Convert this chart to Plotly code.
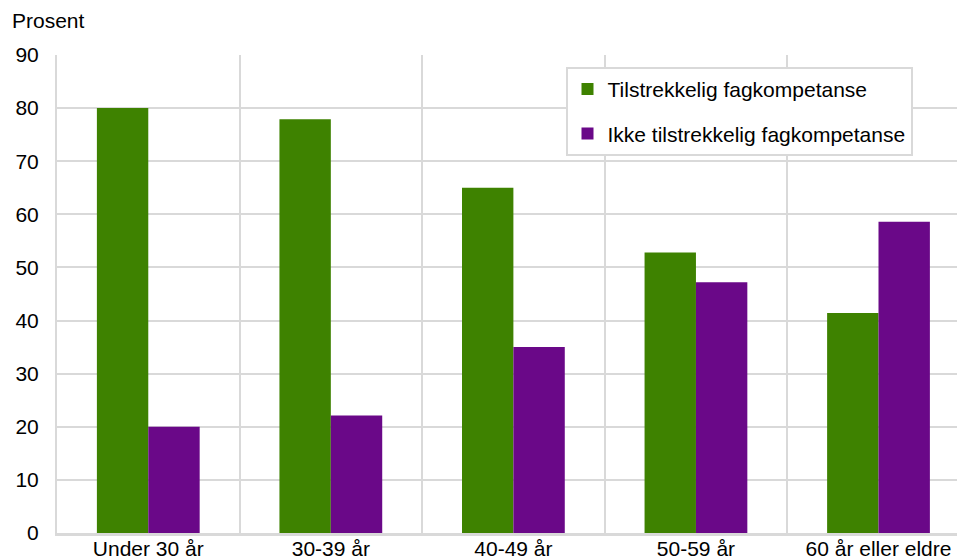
import plotly.graph_objects as go

categories = ["Under 30 år", "30-39 år", "40-49 år", "50-59 år", "60 år eller eldre"]
tilstrekkelig = [80.0, 77.9, 65.0, 52.8, 41.4]
ikke_tilstrekkelig = [20.0, 22.1, 35.0, 47.2, 58.6]
series_names = ["Tilstrekkelig fagkompetanse", "Ikke tilstrekkelig fagkompetanse"]
y_title = "Prosent"

GREEN = "#3E8200"
PURPLE = "#6A0888"
GRID = "#D9D9D9"
FONT = "Liberation Sans, Arial, sans-serif"
FS = 21

fig = go.Figure()
fig.add_trace(go.Bar(x=categories, y=tilstrekkelig, name=series_names[0],
                     marker=dict(color=GREEN, line=dict(width=0)), legendgroup="a"))
fig.add_trace(go.Bar(x=categories, y=ikke_tilstrekkelig, name=series_names[1],
                     marker=dict(color=PURPLE, line=dict(width=0)), legendgroup="b"))

fig.update_layout(
    width=957, height=560,
    margin=dict(l=57, r=0, t=55, b=27),
    paper_bgcolor="white", plot_bgcolor="white",
    font=dict(family=FONT, size=FS, color="black"),
    barmode="group", bargap=0.437, bargroupgap=0,
    showlegend=True,
    legend=dict(x=0.565, y=0.975, xanchor="left", yanchor="top",
                bgcolor="white", bordercolor=GRID, borderwidth=2,
                font=dict(size=FS, color="black"),
                traceorder="grouped", tracegroupgap=14),
    xaxis=dict(type="category", range=[-0.5, 4.43], tickson="boundaries",
               showgrid=True, gridcolor=GRID, gridwidth=2,
               showline=True, linecolor=GRID, linewidth=3,
               ticks="", tickfont=dict(size=FS), automargin=False,
               ticklabelstandoff=-5),
    yaxis=dict(range=[0, 90], dtick=10, showgrid=True, gridcolor=GRID, gridwidth=2,
               showline=True, linecolor=GRID, linewidth=2, zeroline=False,
               ticks="", ticklabelstandoff=12, tickfont=dict(size=FS),
               automargin=False),
    annotations=[dict(text=y_title, xref="paper", yref="paper", x=-0.052, y=1.073,
                      xanchor="left", yanchor="middle", showarrow=False,
                      font=dict(size=FS, color="black"))],
)

fig.write_html(
    "out.html",
    config={"displayModeBar": False},
    post_script="document.body.style.margin='0';document.body.style.overflow='hidden';",
)
